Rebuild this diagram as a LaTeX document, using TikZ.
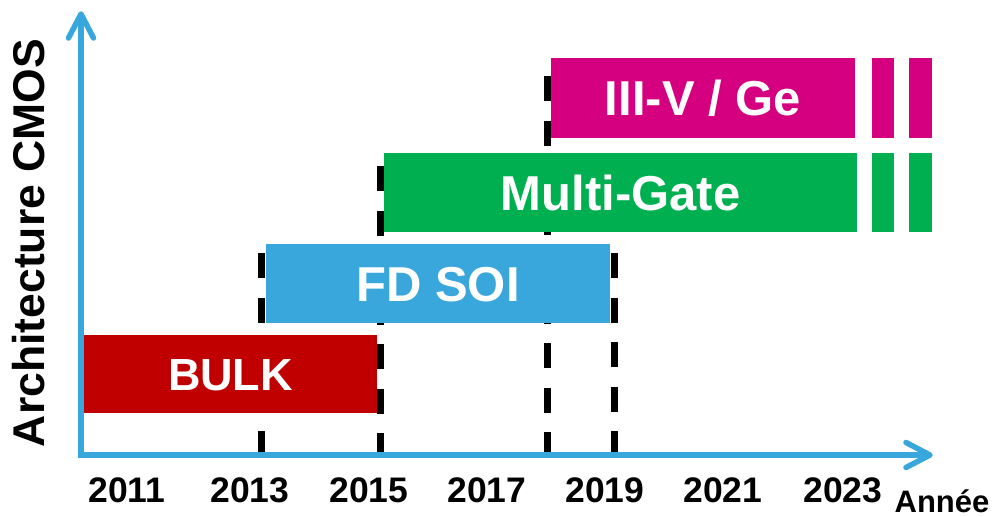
\documentclass[tikz,border=0pt]{standalone}
\usepackage{fontspec}
\setmainfont{Liberation Sans}
\definecolor{axisblue}{HTML}{38A8DC}
\definecolor{bulkred}{HTML}{C00000}
\definecolor{soiblue}{HTML}{3AA7DC}
\definecolor{mggreen}{HTML}{00B050}
\definecolor{iiimag}{HTML}{D5007F}
\tikzset{
  bar/.style={draw=none, inner sep=0pt, text=white, font=\bfseries\fontsize{49}{49}\selectfont,
    text height=35pt, text depth=0pt},
  piece/.style={draw=none, inner sep=0pt, anchor=north west},
  limit/.style={black, line width=7pt, dash pattern=on 25pt off 19.5pt},
  axisline/.style={axisblue, line width=5.5pt, line join=miter},
  tiparms/.style={axisblue, line width=5.5pt, line cap=round, line join=round},
  year/.style={font=\bfseries\fontsize{35.5}{35.5}\selectfont, anchor=base, inner sep=0pt},
}
\begin{document}
\begin{tikzpicture}[x=1pt,y=-1pt]
\useasboundingbox (0,0) rectangle (997,517);
% dashed limits
\coordinate (d1t) at (261,253); \coordinate (d1b) at (261,455);
\coordinate (d2t) at (380.5,166); \coordinate (d2b) at (380.5,455);
\coordinate (d3t) at (547,76); \coordinate (d3b) at (547,455);
\coordinate (d4t) at (614,253); \coordinate (d4b) at (614,455);
\draw[limit] (d1t) -- (d1b);
\draw[limit] (d2t) -- (d2b);
\draw[limit] (d3t) -- (d3b);
\draw[limit] (d4t) -- (d4b);
% bars
\node[bar, fill=bulkred, minimum width=293, minimum height=78, font=\bfseries\fontsize{45}{45}\selectfont, text height=32pt] (bulk) at (230.5,374) {BULK};
\node[bar, fill=soiblue, minimum width=344, minimum height=79] (soi) at (438,283.5) {FD SOI};
\node[bar, fill=mggreen, minimum width=473, minimum height=79] (mg) at (620.5,192.5) {Multi-Gate};
\node[bar, fill=iiimag, minimum width=304, minimum height=80] (iii) at (703,98) {III-V / Ge};
% continuation pieces
\node[piece, fill=mggreen, minimum width=22, minimum height=79] (mg1) at (872,153) {};
\node[piece, fill=mggreen, minimum width=23, minimum height=79] (mg2) at (909,153) {};
\node[piece, fill=iiimag, minimum width=22, minimum height=80] (iii1) at (872,58) {};
\node[piece, fill=iiimag, minimum width=23, minimum height=80] (iii2) at (909,58) {};
% axes
\coordinate (origin) at (81,455);
\coordinate (ytip) at (81,14);
\coordinate (xtip) at (930,455);
\draw[axisline] (ytip) -- (origin) -- (xtip);
\draw[tiparms] (ytip) ++(-12.5,24) -- (ytip) -- ++(12.5,24);
\draw[tiparms] (xtip) ++(-24,-12.5) -- (xtip) -- ++(-24,12.5);
% axis labels
\node[rotate=90, inner sep=0pt, font=\bfseries\fontsize{44.5}{44.5}\selectfont] (ylab) at (29,243) {Architecture CMOS};
\node[year] (y2011) at (127,502) {2011};
\node[year] (y2013) at (250,502) {2013};
\node[year] (y2015) at (369,502) {2015};
\node[year] (y2017) at (487,502) {2017};
\node[year] (y2019) at (605,502) {2019};
\node[year] (y2021) at (723,502) {2021};
\node[year] (y2023) at (843,502) {2023};
\node[anchor=base, inner sep=0pt, font=\bfseries\fontsize{31}{31}\selectfont] (annee) at (942,512) {Année};
\end{tikzpicture}
\end{document}
